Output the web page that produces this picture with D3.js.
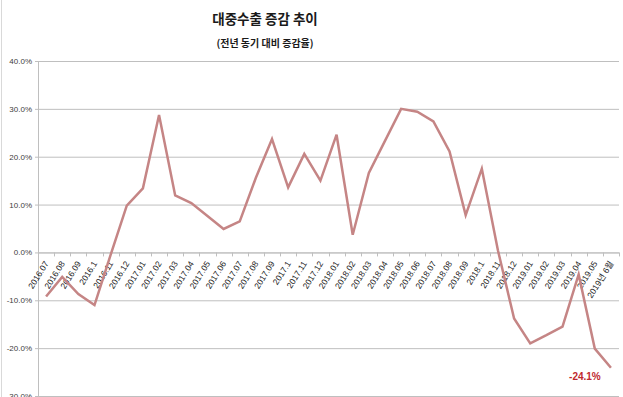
<!DOCTYPE html>
<html>
<head>
<meta charset="utf-8">
<script src="https://cdn.jsdelivr.net/npm/d3@7"></script>
<style>
  body { margin: 0; background: #fff; }
  svg { display: block; }
</style>
</head>
<body>
<div id="chart"></div>
<script>
// months shown on the x axis
var months = ["2016.07","2016.08","2016.09","2016.1","2016.11","2016.12",
  "2017.01","2017.02","2017.03","2017.04","2017.05","2017.06","2017.07","2017.08","2017.09","2017.1","2017.11","2017.12",
  "2018.01","2018.02","2018.03","2018.04","2018.05","2018.06","2018.07","2018.08","2018.09","2018.1","2018.11","2018.12",
  "2019.01","2019.02","2019.03","2019.04","2019.05","2019년 6월"];

// year-on-year change of exports to China (%)
var growth = [-9.2,-5.1,-8.7,-11.0,-0.5,9.8,
  13.4,28.7,11.9,10.3,7.6,4.9,6.5,15.6,23.7,13.6,20.6,15.0,
  24.6,3.7,16.6,23.3,30.0,29.4,27.4,21.1,7.8,17.5,0.4,-13.8,
  -19.0,-17.3,-15.5,-4.6,-20.1,-24.1];

var yTicks = [40,30,20,10,0,-10,-20,-30];

var W = 623, H = 397;
var svg = d3.select("#chart").append("svg")
    .attr("width", W)
    .attr("height", H);

var x = d3.scaleBand()
    .domain(months)
    .range([38, 619]);

var y = d3.scaleLinear()
    .domain([-30, 40])
    .range([396, 61]);

// chart border on the left edge
svg.append("line")
    .attr("x1", 1.5).attr("x2", 1.5)
    .attr("y1", 0).attr("y2", H)
    .attr("stroke", "#d9d9d9");

// title
svg.append("text")
    .attr("x", 265).attr("y", 24)
    .attr("text-anchor", "middle")
    .style("font-family", "'Noto Sans CJK KR', sans-serif")
    .style("font-weight", "bold")
    .style("font-size", "13.5px")
    .attr("fill", "#1a1a1a")
    .text("대중수출 증감 추이");

svg.append("text")
    .attr("x", 265).attr("y", 47)
    .attr("text-anchor", "middle")
    .style("font-family", "'Noto Sans CJK KR', sans-serif")
    .style("font-weight", "bold")
    .style("font-size", "10px")
    .attr("fill", "#1a1a1a")
    .text("(전년 동기 대비 증감율)");

// gridlines + y axis
var yAxis = svg.append("g")
    .attr("transform", "translate(38,0)")
    .call(d3.axisLeft(y)
        .tickValues(yTicks)
        .tickSize(-(619 - 38))
        .tickPadding(6)
        .tickFormat(function(d) { return d.toFixed(1) + "%"; }));

yAxis.select(".domain").attr("stroke", "#bfbfbf");
yAxis.selectAll(".tick line").attr("stroke", "#bfbfbf");
yAxis.selectAll(".tick text")
    .style("font-family", "'Liberation Sans', Arial, sans-serif")
    .style("font-size", "8px")
    .attr("fill", "#404040");

// small ticks to the left of the value axis
svg.append("g").selectAll("line")
    .data(yTicks)
    .join("line")
    .attr("x1", 35).attr("x2", 38)
    .attr("y1", function(d) { return y(d) + 0.5; })
    .attr("y2", function(d) { return y(d) + 0.5; })
    .attr("stroke", "#bfbfbf");

// category axis at zero with ticks between months
var boundaries = months.map(function(m) { return x(m); }).concat([619]);
svg.append("line")
    .attr("x1", 38).attr("x2", 619)
    .attr("y1", y(0) + 0.5).attr("y2", y(0) + 0.5)
    .attr("stroke", "#bfbfbf");

svg.append("g").selectAll("line")
    .data(boundaries)
    .join("line")
    .attr("x1", function(d) { return Math.round(d) + 0.5; })
    .attr("x2", function(d) { return Math.round(d) + 0.5; })
    .attr("y1", y(0))
    .attr("y2", y(0) + 4)
    .attr("stroke", "#bfbfbf");

// rotated month labels
svg.append("g").selectAll("text")
    .data(months)
    .join("text")
    .attr("text-anchor", "end")
    .attr("transform", function(d) {
        return "translate(" + (x(d) + x.bandwidth() / 2 + 3) + "," + (y(0) + 11) + ") rotate(-58)";
    })
    .style("font-family", "'Liberation Sans', 'Noto Sans CJK KR', sans-serif")
    .style("font-size", "8.5px")
    .attr("fill", "#1a1a1a")
    .text(function(d) { return d; });

// the line
var line = d3.line()
    .x(function(d, i) { return x(months[i]) + x.bandwidth() / 2; })
    .y(function(d) { return y(d); });

svg.append("path")
    .datum(growth)
    .attr("fill", "none")
    .attr("stroke", "#c58585")
    .attr("stroke-width", 2.5)
    .attr("stroke-linejoin", "miter")
    .attr("d", line);

// last value label
var last = growth.length - 1;
svg.append("text")
    .attr("x", x(months[last]) + x.bandwidth() / 2 - 26)
    .attr("y", y(growth[last]) + 12)
    .attr("text-anchor", "middle")
    .style("font-family", "'Liberation Sans', Arial, sans-serif")
    .style("font-weight", "bold")
    .style("font-size", "10px")
    .attr("fill", "#c0282e")
    .text(growth[last].toFixed(1) + "%");
</script>
</body>
</html>
